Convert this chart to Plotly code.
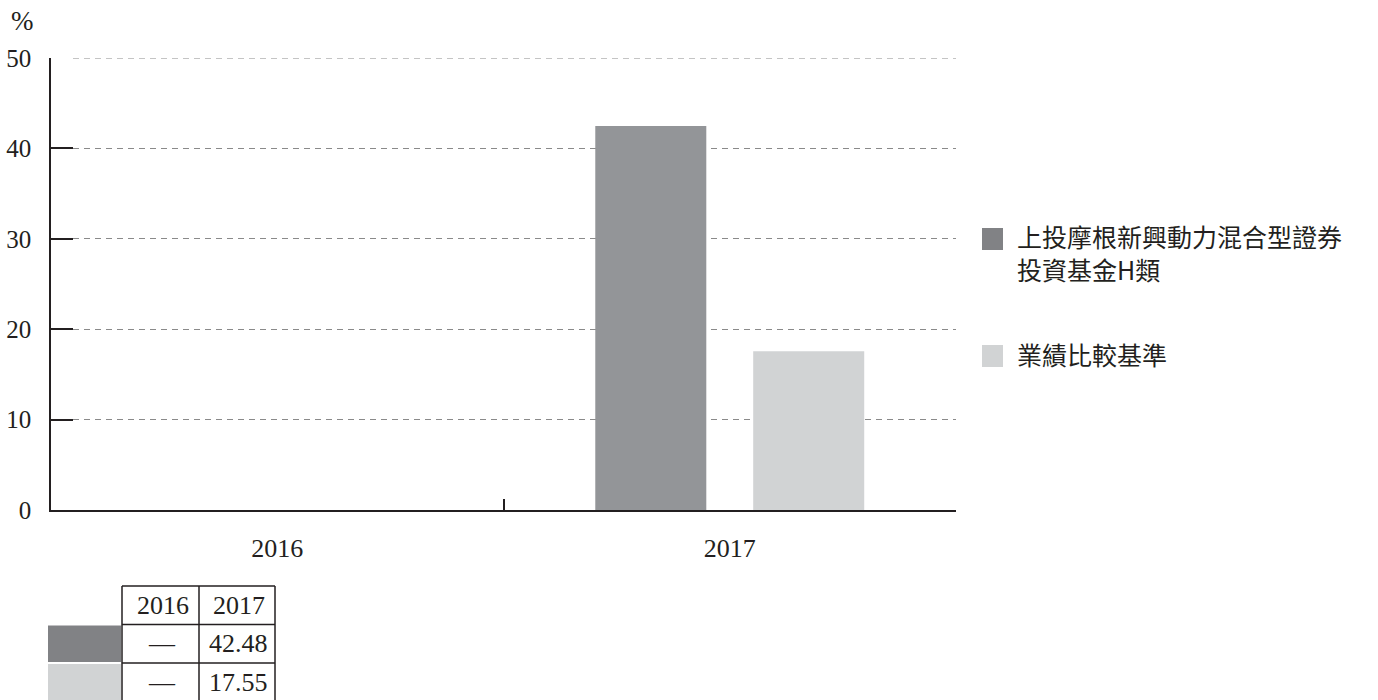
import plotly.graph_objects as go

# ---- data ----
years = ["2016", "2017"]
fund_name = "上投摩根新興動力混合型證券<br>投資基金H類"
bench_name = "業績比較基準"
fund_values = [None, 42.48]
bench_values = [None, 17.55]
y_ticks = [0, 10, 20, 30, 40, 50]

# ---- style ----
DARK = "#939598"
DARK_SW = "#818285"
LIGHT = "#d1d3d4"
INK = "#231f20"
SERIF = "Liberation Serif, Times New Roman, serif"
SANS = "Noto Sans CJK TC, Noto Sans, sans-serif"

W, H = 1378, 700
L, R, T, B = 51, 956, 58, 510  # plot area in px


def px_x(px):
    return (px - L) / (R - L)


def px_y(py):
    return (B - py) / (B - T)


fig = go.Figure()
fig.add_trace(go.Bar(x=years, y=fund_values, marker=dict(color=DARK, line=dict(width=0)),
                     name=fund_name, showlegend=False))
fig.add_trace(go.Bar(x=years, y=bench_values, marker=dict(color=LIGHT, line=dict(width=0)),
                     name=bench_name, showlegend=False))

shapes = []
annotations = []

# "%" unit label
annotations.append(dict(text="%", x=px_x(22), y=px_y(21), xref="paper", yref="paper",
                        showarrow=False, font=dict(family=SERIF, size=27, color=INK),
                        xanchor="center", yanchor="middle"))

# dashed gridline at the top value (plotly skips grid at the range edge)
shapes.append(dict(type="line", xref="paper", yref="y", x0=px_x(73), x1=1, y0=y_ticks[-1], y1=y_ticks[-1],
                   line=dict(color="#8a8a8a", width=1, dash="6px,5px")))

# manual legend
legend_items = [(fund_name, DARK_SW, 239, 252), (bench_name, LIGHT, 356, 354)]
for name, color, sq_cy, txt_cy in legend_items:
    shapes.append(dict(type="rect", xref="paper", yref="paper",
                       x0=px_x(982), x1=px_x(1003), y0=px_y(sq_cy - 11), y1=px_y(sq_cy + 11),
                       fillcolor=color, line=dict(width=0)))
    annotations.append(dict(text=name, x=px_x(1015), y=px_y(txt_cy), align="left",
                            xref="paper", yref="paper", showarrow=False,
                            xanchor="left", yanchor="middle",
                            font=dict(family=SANS, size=25, color=INK)))

# table below chart
col_x = [48, 122, 199, 275]
row_y = [586, 624.5, 663, 701.5]
for r in (0, 1, 2, 3):
    shapes.append(dict(type="line", xref="paper", yref="paper", x0=px_x(col_x[1]), x1=px_x(col_x[3]),
                       y0=px_y(row_y[r]), y1=px_y(row_y[r]), line=dict(color=INK, width=1.5)))
for c in (1, 2, 3):
    shapes.append(dict(type="line", xref="paper", yref="paper", x0=px_x(col_x[c]), x1=px_x(col_x[c]),
                       y0=px_y(row_y[0]), y1=px_y(row_y[3]), line=dict(color=INK, width=1.5)))
# swatches
for r, color in enumerate([DARK_SW, LIGHT]):
    shapes.append(dict(type="rect", xref="paper", yref="paper",
                       x0=px_x(col_x[0]), x1=px_x(col_x[1] - 1),
                       y0=px_y(row_y[r + 1] + 1), y1=px_y(row_y[r + 2] - 1),
                       fillcolor=color, line=dict(width=0), layer="below"))
# header text
for c, yr in enumerate(years):
    annotations.append(dict(text=yr, x=px_x((col_x[c + 1] + col_x[c + 2]) / 2 + 2),
                            y=px_y((row_y[0] + row_y[1]) / 2), xref="paper", yref="paper",
                            showarrow=False, xanchor="center", yanchor="middle",
                            font=dict(family=SERIF, size=26, color=INK)))
# value text
for r, series in enumerate([fund_values, bench_values]):
    for c, v in enumerate(series):
        txt = "—" if v is None else f"{v:.2f}"
        annotations.append(dict(text=txt, x=px_x((col_x[c + 1] + col_x[c + 2]) / 2 + 1),
                                y=px_y((row_y[r + 1] + row_y[r + 2]) / 2), xref="paper", yref="paper",
                                showarrow=False, xanchor="center", yanchor="middle",
                                font=dict(family=SERIF, size=26, color=INK)))

fig.update_layout(
    width=W, height=H,
    margin=dict(l=L, r=W - R, t=T, b=H - B, pad=0, autoexpand=False),
    paper_bgcolor="white", plot_bgcolor="white",
    barmode="group", bargap=0.302, bargroupgap=0.297,
    showlegend=False,
    shapes=shapes, annotations=annotations,
    xaxis=dict(type="category", range=[-0.5, 1.5], tickson="boundaries", automargin=False,
               ticks="inside", ticklen=11, tickwidth=1.5, tickcolor=INK,
               showline=True, linecolor=INK, linewidth=1.5, showgrid=False,
               tickfont=dict(family=SERIF, size=26, color=INK), ticklabelstandoff=14),
    yaxis=dict(range=[0, 50], tickvals=y_ticks, ticks="inside", ticklen=22, tickwidth=1.5,
               tickcolor=INK, showline=True, linecolor=INK, linewidth=1.5, automargin=False,
               showgrid=True, gridcolor="#8a8a8a", gridwidth=1, griddash="6px,5px",
               zeroline=False, tickfont=dict(family=SERIF, size=25, color=INK),
               ticklabelstandoff=13),
)

fig.write_html("out.html", config={"displayModeBar": False},
               post_script="document.body.style.margin='0';document.body.style.padding='0';")
